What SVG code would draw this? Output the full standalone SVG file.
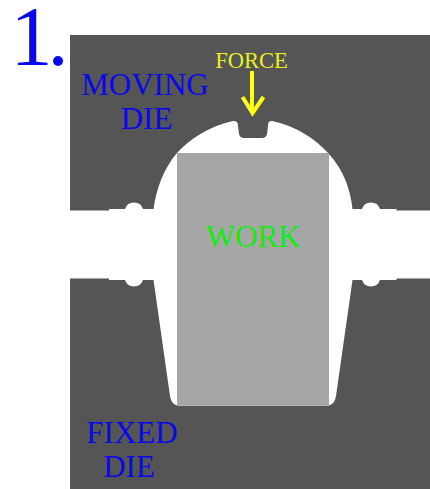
<svg xmlns="http://www.w3.org/2000/svg" width="430" height="489" viewBox="0 0 430 489">
<style>
text{font-family:"Liberation Serif","Times New Roman",serif;text-anchor:middle}
.b{fill:#0808e8;font-size:31px}
.die{fill:#555555}
</style>
<rect width="430" height="489" fill="#fff"/>
<g id="moving-die"><path class="die" d="M70 35H430V210.500H396.500V209H380A9.500 9.500 0 0 0 362 209H352.500C350.500 190 344 170 328 153C315 139 297 126 272 121Q268 120.500 268 126L267 134Q266 138 262 138H244Q240 138 239 134L238 126Q238 120.500 233 121C209 126 190 139 177 153C164 168 156.500 188 153.500 209H143A9.500 9.500 0 0 0 125 209H109V210.500H70Z"/></g>
<g id="fixed-die"><path class="die" d="M70 489V278.500H109V280H125A9.500 9.500 0 0 0 143 280H153.500L170 396Q171.500 405.700 179 405.700H327Q334.500 405.700 336 396L352.500 280H362A9.500 9.500 0 0 0 380 280H396.500V278.500H430V489Z"/></g>
<g id="work"><rect x="177" y="153" width="152" height="252.700" fill="#a6a6a6"/><text x="253" y="246.500" font-size="31" fill="#11ee11">WORK</text></g>
<g id="labels">
<text x="10.500" y="65" font-size="84" fill="#0808f0" style="text-anchor:start">1<tspan dx="-5">.</tspan></text>
<text class="b" x="145" y="95">MOVING</text>
<text class="b" x="146.500" y="129">DIE</text>
<text class="b" x="132" y="443">FIXED</text>
<text class="b" x="129" y="477">DIE</text>
<text x="251.500" y="68" font-size="22.500" fill="#eeee22">FORCE</text>
</g>
<g id="connectors" fill="none" stroke="#ffff14" stroke-width="4"><path d="M252 71V113"/><path d="M242.500 97L252.500 113L263.500 97" stroke-linejoin="miter"/></g>
</svg>
